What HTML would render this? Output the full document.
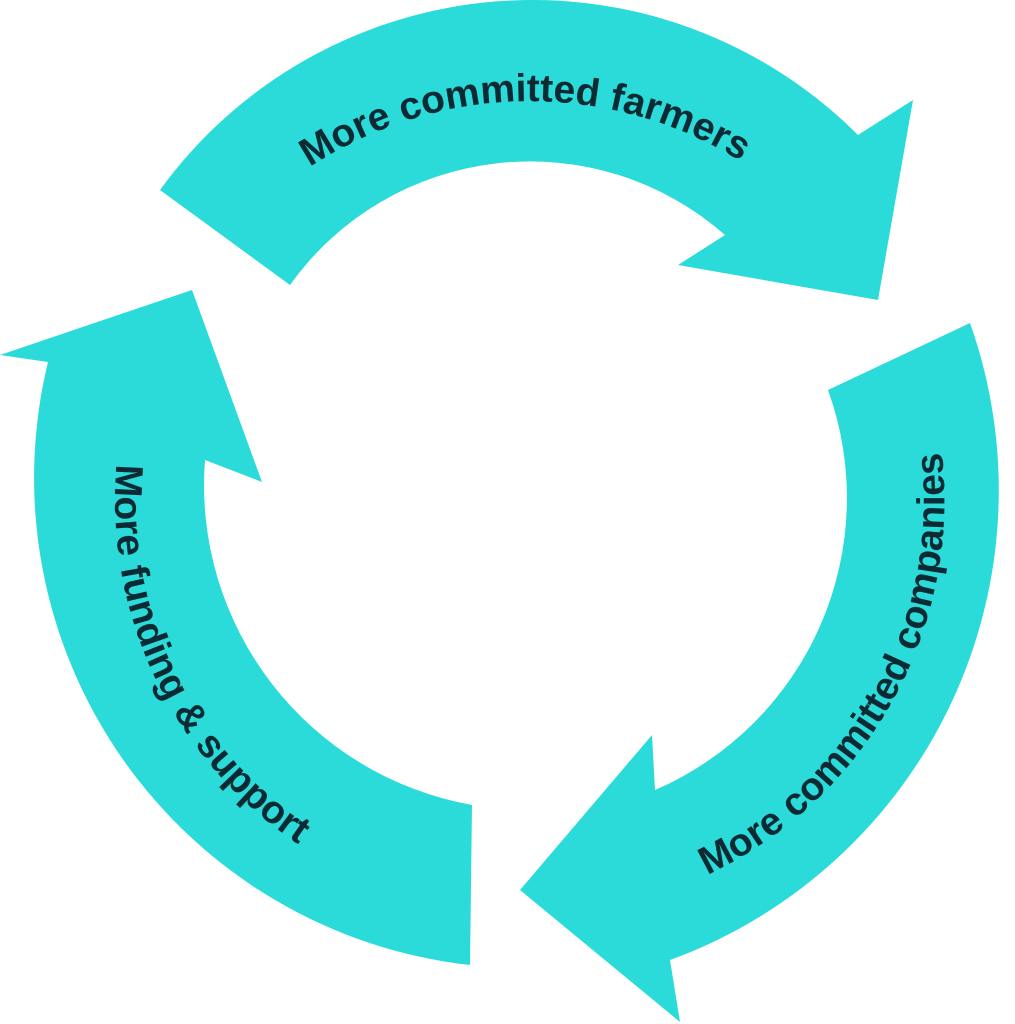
<!DOCTYPE html>
<html><head><meta charset="utf-8"><style>
html,body{margin:0;padding:0;background:#fff;width:1015px;height:1024px;overflow:hidden}
svg{display:block}
text{font-family:"Liberation Sans",sans-serif;font-weight:bold;font-size:39px;fill:#0c2a33;letter-spacing:0px}
</style></head><body>
<svg width="1015" height="1024" viewBox="0 0 1015 1024">
<defs>
<path id="tp" d="M 180.6,306.3 A 400 400 0 0 1 873.9,297.0"/>
<path id="lp2" d="M 190.0,262.0 A 415 415 0 0 0 502.0,914.0"/>
<path id="rp" d="M 552.0,914.4 A 415 415 0 0 0 892.8,299.6"/>
</defs>
<g fill="#2adbd9">
<path d="M160,190 L290,285 A295 295 0 0 1 725,235 L678,265 L878,300 L913,100 L858,135 A460 460 0 0 0 160,190 Z"/>
<path d="M970,323 A500 500 0 0 1 670,960 L680,1022 L520,890 L652,735 L655,790 A318 318 0 0 0 828,390 Z"/>
<path d="M470,965 A490 490 0 0 1 48,362 L0,355 L192,290 L262,482 L205,460 A325 325 0 0 0 472,805 Z"/>
</g>
<text><textPath href="#tp" startOffset="50%" text-anchor="middle">More committed farmers</textPath></text>
<text><textPath href="#lp2" startOffset="50%" text-anchor="middle">More funding &amp; support</textPath></text>
<text><textPath href="#rp" startOffset="50%" text-anchor="middle">More committed companies</textPath></text>
</svg>
</body></html>
